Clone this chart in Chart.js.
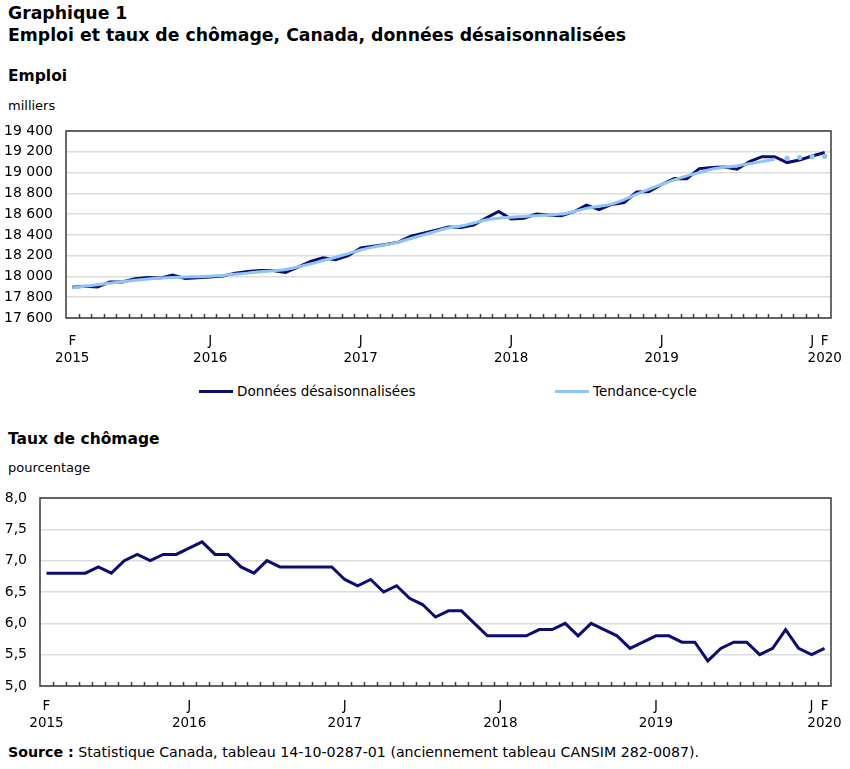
<!DOCTYPE html>
<html lang="fr">
<head>
<meta charset="utf-8">
<script src="https://cdn.jsdelivr.net/npm/chart.js@4/dist/chart.umd.min.js"></script>
<style>
  body { margin: 0; background: #fff; font-family: "DejaVu Sans", Verdana, sans-serif; color: #000; }
  #page { position: relative; width: 850px; height: 769px; overflow: hidden; }
  .t { position: absolute; left: 8px; white-space: nowrap; }
  .title { font-weight: bold; font-size: 17.3px; line-height: 22px; }
  .sub { font-weight: bold; font-size: 15.5px; }
  .unit { font-size: 13px; }
  canvas { position: absolute; left: 0; }
  .leg { position: absolute; top: 383px; font-size: 13.5px; white-space: nowrap; display: flex; align-items: center; }
  .leg span.l { display: inline-block; width: 34px; height: 3px; margin-right: 4px; }
  .src { font-size: 14.2px; }
</style>
</head>
<body>
<div id="page">
  <div class="t title" style="top:2px">Graphique 1<br>Emploi et taux de chômage, Canada, données désaisonnalisées</div>
  <div class="t sub" style="top:67px">Emploi</div>
  <div class="t unit" style="top:98px">milliers</div>
  <canvas id="c1" width="850" height="250" style="top:120px"></canvas>
  <div class="leg" style="left:199px"><span class="l" id="l1"></span><span id="n1"></span></div>
  <div class="leg" style="left:555px"><span class="l" id="l2"></span><span id="n2"></span></div>
  <div class="t sub" style="top:430px">Taux de chômage</div>
  <div class="t unit" style="top:460px">pourcentage</div>
  <canvas id="c2" width="850" height="250" style="top:480px"></canvas>
  <div class="t src" style="top:744px"><b>Source :</b> Statistique Canada, tableau 14-10-0287-01 (anciennement tableau CANSIM 282-0087).</div>
</div>
<script>
// mois, février 2015 à février 2020
const months = [
  '2015-02','2015-03','2015-04','2015-05','2015-06','2015-07','2015-08','2015-09','2015-10','2015-11','2015-12',
  '2016-01','2016-02','2016-03','2016-04','2016-05','2016-06','2016-07','2016-08','2016-09','2016-10','2016-11','2016-12',
  '2017-01','2017-02','2017-03','2017-04','2017-05','2017-06','2017-07','2017-08','2017-09','2017-10','2017-11','2017-12',
  '2018-01','2018-02','2018-03','2018-04','2018-05','2018-06','2018-07','2018-08','2018-09','2018-10','2018-11','2018-12',
  '2019-01','2019-02','2019-03','2019-04','2019-05','2019-06','2019-07','2019-08','2019-09','2019-10','2019-11','2019-12',
  '2020-01','2020-02'
];

// étiquettes de l'axe des x
const xTickLabels = {
  '2015-02': ['F', '2015'],
  '2016-01': ['J', '2016'],
  '2017-01': ['J', '2017'],
  '2018-01': ['J', '2018'],
  '2019-01': ['J', '2019'],
  '2020-01': ['J', ''],
  '2020-02': ['F', '2020']
};

const seriesNames = ['Données désaisonnalisées', 'Tendance-cycle'];

// emploi, milliers
const emploi = [
  17895, 17905, 17898, 17946, 17946, 17978, 17990, 17984, 18013, 17981, 17987,
  17994, 18003, 18032, 18048, 18058, 18058, 18038, 18090, 18144, 18179, 18160, 18200,
  18275, 18290, 18307, 18330, 18387, 18417, 18445, 18476, 18470, 18495, 18562, 18626,
  18553, 18559, 18600, 18591, 18585, 18623, 18687, 18642, 18693, 18712, 18812, 18818,
  18885, 18943, 18940, 19038, 19048, 19054, 19032, 19105, 19153, 19153, 19096, 19121,
  19159, 19193
];

// tendance-cycle, milliers
const tendance = [
  17890, 17905, 17920, 17935, 17950, 17963, 17975, 17983, 17990, 17995, 17998,
  18003, 18010, 18020, 18032, 18045, 18055, 18067, 18092, 18120, 18153, 18185, 18220,
  18255, 18282, 18305, 18330, 18365, 18400, 18435, 18466, 18485, 18515, 18543, 18560,
  18569, 18578, 18585, 18592, 18600, 18625, 18655, 18675, 18696, 18740, 18792, 18840,
  18885, 18930, 18968, 19000, 19032, 19050, 19064, 19085, 19105, 19128, 19137, 19144,
  19153, 19156
];

// taux de chômage, pourcentage
const chomage = [
  6.8, 6.8, 6.8, 6.8, 6.9, 6.8, 7.0, 7.1, 7.0, 7.1, 7.1,
  7.2, 7.3, 7.1, 7.1, 6.9, 6.8, 7.0, 6.9, 6.9, 6.9, 6.9, 6.9,
  6.7, 6.6, 6.7, 6.5, 6.6, 6.4, 6.3, 6.1, 6.2, 6.2, 6.0, 5.8,
  5.8, 5.8, 5.8, 5.9, 5.9, 6.0, 5.8, 6.0, 5.9, 5.8, 5.6, 5.7,
  5.8, 5.8, 5.7, 5.7, 5.4, 5.6, 5.7, 5.7, 5.5, 5.6, 5.9, 5.6,
  5.5, 5.6
];

const lastFinalTrend = 56; // après ce mois, la tendance est en pointillés

const DARK = '#0c0c72';
const LIGHT = '#8ec5f6';
const FONT = '"DejaVu Sans", Verdana, sans-serif';

document.getElementById('l1').style.background = DARK;
document.getElementById('l2').style.background = LIGHT;
document.getElementById('n1').textContent = seriesNames[0];
document.getElementById('n2').textContent = seriesNames[1];

// cadre et petites graduations vers le haut, entre les mois
const framePlugin = {
  id: 'frame',
  afterDraw(chart) {
    const a = chart.chartArea, x = chart.scales.x, c = chart.ctx;
    c.save();
    c.strokeStyle = '#3a3a3a';
    c.lineWidth = 1.5;
    c.beginPath();
    for (let i = 0; i < x.ticks.length - 1; i++) {
      const px = Math.round((x.getPixelForTick(i) + x.getPixelForTick(i + 1)) / 2) + 0.5;
      c.moveTo(px, a.bottom);
      c.lineTo(px, a.bottom - 4);
    }
    c.stroke();
    c.strokeRect(a.left, a.top, a.right - a.left, a.bottom - a.top);
    c.restore();
  }
};

function xScale(height, pad) {
  return {
    type: 'category',
    offset: true,
    grid: { display: false },
    border: { display: false },
    ticks: {
      autoSkip: false, maxRotation: 0, minRotation: 0, padding: pad,
      color: '#000', font: { family: FONT, size: 13.5, lineHeight: 1.25 },
      callback: function (v, i) { return xTickLabels[months[i]] || ''; }
    },
    afterFit: s => { s.height = height; s.paddingLeft = 0; s.paddingRight = 0; }
  };
}

function yScale(min, max, step, width, fmt) {
  return {
    min: min, max: max,
    grid: { color: '#dcdcdc', lineWidth: 1.5, drawTicks: false },
    border: { display: false },
    ticks: {
      stepSize: step, padding: 13, color: '#000', autoSkip: false,
      font: { family: FONT, size: 14 },
      callback: fmt
    },
    afterFit: s => { s.width = width; s.paddingTop = 0; s.paddingBottom = 0; }
  };
}

new Chart(document.getElementById('c1'), {
  type: 'line',
  data: {
    labels: months,
    datasets: [
      {
        label: seriesNames[0], data: emploi, order: 1,
        borderColor: DARK, borderWidth: 3, pointRadius: 0, tension: 0
      },
      {
        label: seriesNames[1], data: tendance, order: 0,
        borderColor: LIGHT, backgroundColor: LIGHT, borderWidth: 3, tension: 0.3,
        pointRadius: ctx => ctx.dataIndex > lastFinalTrend ? 2.6 : 0,
        pointBorderWidth: 0,
        segment: { borderColor: ctx => ctx.p0DataIndex >= lastFinalTrend ? 'rgba(0,0,0,0)' : undefined }
      }
    ]
  },
  options: {
    responsive: false, animation: false,
    layout: { padding: { left: 0, right: 19, top: 11, bottom: 0 } },
    plugins: { legend: { display: false }, tooltip: { enabled: false } },
    scales: {
      x: xScale(52, 7),
      y: yScale(17600, 19400, 200, 66, v => String(v).replace(/\B(?=(\d{3})+(?!\d))/g, ' '))
    }
  },
  plugins: [framePlugin]
});

new Chart(document.getElementById('c2'), {
  type: 'line',
  data: {
    labels: months,
    datasets: [
      {
        label: 'Taux de chômage', data: chomage,
        borderColor: DARK, borderWidth: 3, pointRadius: 0, tension: 0
      }
    ]
  },
  options: {
    responsive: false, animation: false,
    layout: { padding: { left: 0, right: 19, top: 18, bottom: 0 } },
    plugins: { legend: { display: false }, tooltip: { enabled: false } },
    scales: {
      x: xScale(44, 4),
      y: yScale(5, 8, 0.5, 40, v => v.toFixed(1).replace('.', ','))
    }
  },
  plugins: [framePlugin]
});
</script>
</body>
</html>
